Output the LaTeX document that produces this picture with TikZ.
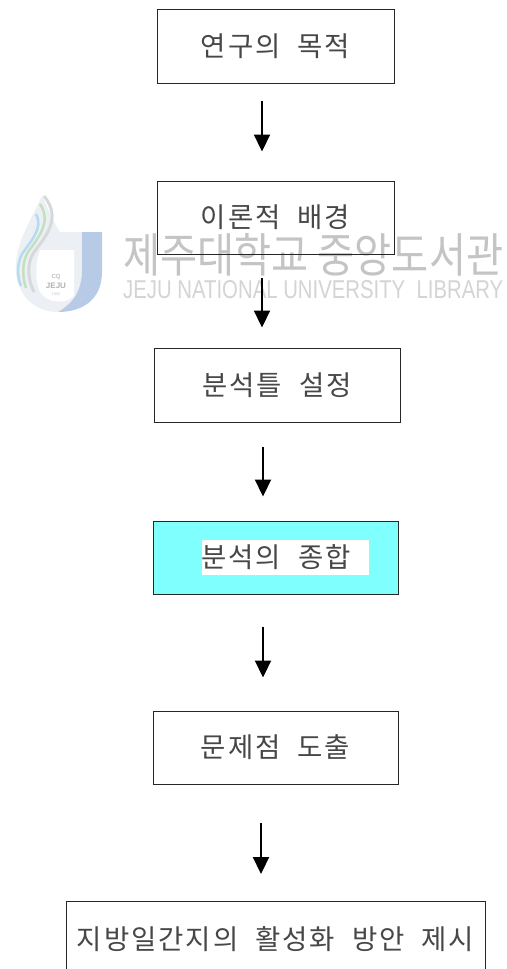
\documentclass[tikz,border=0pt]{standalone}
\usepackage{fontspec}
\newfontfamily\kr{Noto Sans CJK KR}[WordSpace=2.1,LetterSpace=7]
\newfontfamily\krwm{Noto Sans CJK KR}
\newfontfamily\wmlat{Liberation Sans}
\usetikzlibrary{arrows.meta}
\definecolor{boxcyan}{RGB}{128,255,255}
\definecolor{wmgray}{RGB}{196,196,196}
\definecolor{wmlight}{RGB}{212,212,212}
\definecolor{logoblue}{RGB}{184,203,230}
\definecolor{logoflame}{RGB}{236,240,245}
\definecolor{swgray}{RGB}{214,216,220}
\definecolor{swgreen}{RGB}{196,224,190}
\definecolor{swblue}{RGB}{180,220,240}
\begin{document}
\begin{tikzpicture}[x=1pt,y=-1pt,
  boxfont/.style={font=\kr\fontsize{27.5}{32}\selectfont,text=black!72},
  box/.style={draw=black!85,line width=1pt,minimum width=237pt,minimum height=74pt,inner sep=0pt,boxfont},
  arr/.style={draw=black,line width=2.2pt,-{Triangle[width=16pt,length=17pt]}}]
\useasboundingbox (0,0) rectangle (506,969);
\clip (0,0) rectangle (506,969);
\fill[white] (0,0) rectangle (506,969);

% ---------- watermark logo ----------
\fill[logoflame] (42,196) .. controls (30,222) and (14,245) .. (16,272)
  .. controls (18,297) and (36,312) .. (58,312) -- (82,300) -- (82,232) -- (60,232) .. controls (52,220) and (48,208) .. (42,196) -- cycle;
\fill[white] (40,250) .. controls (36,262) and (34,278) .. (40,292) .. controls (48,304) and (66,304) .. (74,296) -- (74,250) -- cycle;
\fill[logoblue] (82,232) -- (102,232) -- (102,272) .. controls (102,300) and (82,312) .. (58,312)
  .. controls (72,304) and (82,292) .. (82,270) -- cycle;
\draw[swgray,line width=3pt] (44,196) .. controls (62,218) and (46,236) .. (34,252) .. controls (26,264) and (28,280) .. (34,292);
\draw[swgreen,line width=2.5pt] (40,204) .. controls (52,222) and (38,238) .. (28,252) .. controls (22,262) and (22,276) .. (26,288);
\draw[swblue,line width=2.5pt] (36,214) .. controls (44,228) and (30,242) .. (22,254) .. controls (17,264) and (17,276) .. (21,286);
\node[inner sep=0pt,text=black!25,font=\wmlat\bfseries\fontsize{6}{7}\selectfont] (logoa) at (56,277) {CQ};
\node[inner sep=0pt,text=black!30,font=\wmlat\bfseries\fontsize{8}{9}\selectfont] (logob) at (56,286) {JEJU};
\node[inner sep=0pt,text=black!20,font=\wmlat\fontsize{4}{5}\selectfont] (logoc) at (56,294) {1952};

% ---------- watermark text ----------
\node[anchor=north west,inner sep=0pt,text=wmgray] (wm1) at (123,233)
  {\resizebox{380pt}{39pt}{\krwm 제주대학교 중앙도서관}};
\node[anchor=north west,inner sep=0pt,text=wmlight] (wm2) at (123,280)
  {\resizebox{380pt}{18pt}{\wmlat JEJU NATIONAL UNIVERSITY\ \ LIBRARY}};

% ---------- boxes ----------
\node[box] (b1) at (275.5,46) {연구의 목적};
\node[box,minimum height=73pt] (b2) at (275.5,217.5) {이론적 배경};
\node[box,minimum width=246pt] (b3) at (277,385) {분석틀 설정};
\node[box,fill=boxcyan,minimum width=245pt,minimum height=73pt] (b4) at (275.5,557.5) {};
\fill[white] (202,540) rectangle (369,575);
\node[inner sep=0pt,boxfont] (t4) at (276,557.5) {분석의 종합};
\node[box,minimum width=245pt,minimum height=73pt] (b5) at (275.5,747.5) {문제점 도출};
\node[box,anchor=north,minimum width=419pt,minimum height=0pt,text height=48pt,text depth=60pt] (b6) at (275.5,901) {지방일간지의 활성화 방안 제시};

% ---------- arrows ----------
\coordinate (ax1) at (262,0);
\coordinate (ax2) at (262,0);
\coordinate (ax3) at (263,0);
\coordinate (ax4) at (263,0);
\coordinate (ax5) at (261,0);
\draw[arr,shorten <=17pt,shorten >=29pt] (b1.south -| ax1) -- (b2.north -| ax1);
\draw[arr,shorten <=23pt,shorten >=20pt] (b2.south -| ax2) -- (b3.north -| ax2);
\draw[arr,shorten <=24pt,shorten >=24pt] (b3.south -| ax3) -- (b4.north -| ax3);
\draw[arr,shorten <=32pt,shorten >=33pt] (b4.south -| ax4) -- (b5.north -| ax4);
\draw[arr,shorten <=38pt,shorten >=27pt] (b5.south -| ax5) -- (b6.north -| ax5);
\end{tikzpicture}
\end{document}
